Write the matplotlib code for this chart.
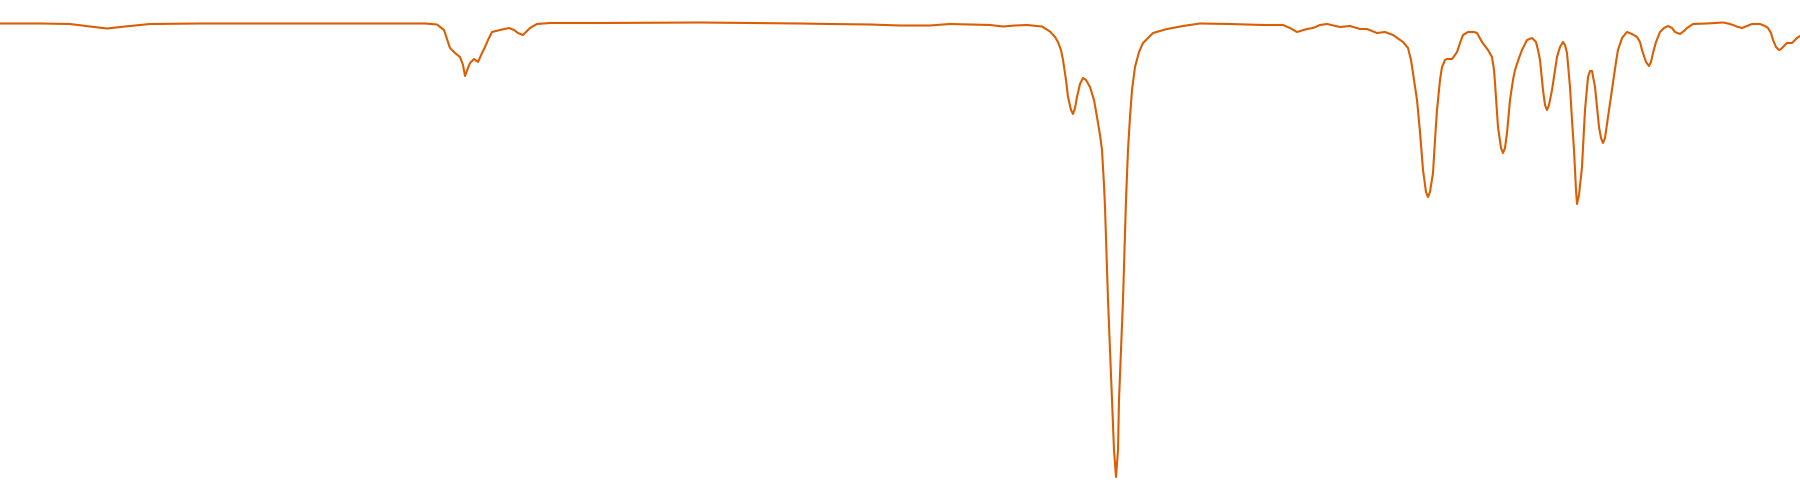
import matplotlib
matplotlib.use("Agg")
import matplotlib.pyplot as plt

# IR-like spectrum: wavenumber (cm-1) vs transmittance (%)
wavenumber = [4000, 3920, 3860, 3820, 3786, 3750, 3700, 3600, 3500, 3400, 3300, 3200,
              3150, 3126, 3112, 3100, 3090, 3080, 3074, 3070, 3064, 3060, 3052, 3044,
              3036, 3030, 3024, 3016, 3000, 2982, 2972, 2964, 2954, 2946, 2940, 2926,
              2900, 2800, 2600, 2400, 2340, 2260, 2200, 2140, 2100, 2020, 1994, 1970,
              1946, 1916, 1900, 1890, 1884, 1878, 1874, 1868, 1864, 1858, 1854, 1850,
              1846, 1840, 1834, 1828, 1820, 1812, 1806, 1800, 1796, 1792, 1790, 1784,
              1776, 1772, 1768, 1764, 1762, 1754, 1748, 1744, 1740, 1736, 1730, 1722,
              1714, 1694, 1666, 1634, 1600, 1540, 1474, 1434, 1420, 1406, 1386, 1374,
              1360, 1346, 1320, 1300, 1280, 1266, 1246, 1230, 1214, 1194, 1184, 1178,
              1174, 1166, 1160, 1154, 1148, 1144, 1140, 1134, 1130, 1126, 1120, 1116,
              1110, 1106, 1096, 1090, 1086, 1080, 1074, 1064, 1052, 1046, 1036, 1024,
              1016, 1012, 1010, 1004, 998, 994, 990, 986, 980, 974, 970, 962,
              956, 946, 936, 928, 924, 920, 914, 910, 906, 902, 896, 890,
              886, 880, 874, 870, 866, 860, 856, 852, 848, 846, 842, 836,
              830, 824, 820, 816, 810, 802, 798, 794, 790, 784, 774, 768,
              764, 756, 746, 736, 726, 720, 716, 708, 702, 698, 694, 688,
              680, 672, 664, 656, 650, 640, 632, 626, 614, 586, 554, 544,
              534, 524, 516, 506, 496, 480, 470, 464, 458, 454, 448, 442,
              438, 434, 426, 416, 406, 400]

transmittance = [95.3, 95.3, 95.2, 94.7, 94.3, 94.7, 95.2, 95.3, 95.3, 95.3, 95.3, 95.3,
                 95.3, 95.1, 94.0, 90.4, 89.4, 88.6, 87.0, 84.8, 86.4, 87.4, 88.2, 87.6,
                 89.4, 90.6, 92.0, 93.6, 94.0, 94.4, 94.0, 93.4, 93.0, 93.8, 94.4, 95.2,
                 95.4, 95.4, 95.5, 95.3, 95.2, 95.1, 94.9, 94.9, 95.2, 95.0, 94.7, 94.9,
                 95.0, 94.7, 93.7, 92.6, 91.6, 90.0, 88.0, 84.0, 80.6, 78.0, 77.2, 78.4,
                 80.6, 83.2, 84.4, 84.0, 82.6, 80.0, 76.6, 73.0, 70.0, 63.0, 58.6, 40.0,
                 20.0, 10.0, 4.6, 10.0, 20.0, 40.0, 60.0, 70.0, 76.6, 82.0, 86.6, 89.6,
                 91.4, 93.4, 94.2, 94.8, 95.3, 95.2, 95.0, 95.0, 94.4, 93.6, 94.2, 94.4,
                 95.0, 95.2, 94.6, 94.8, 94.2, 94.2, 93.4, 93.6, 93.0, 91.6, 90.4, 88.0,
                 85.4, 80.0, 73.6, 66.0, 61.6, 60.6, 61.6, 65.4, 72.0, 78.0, 84.0, 86.6,
                 88.0, 88.2, 88.2, 89.0, 89.6, 91.4, 93.0, 93.6, 93.6, 93.4, 91.6, 90.0,
                 88.6, 86.0, 83.4, 74.6, 70.4, 69.4, 70.4, 73.4, 80.0, 84.0, 86.0, 88.4,
                 90.0, 92.0, 92.4, 91.6, 90.0, 88.0, 82.0, 79.0, 78.0, 79.0, 82.0, 86.0,
                 88.6, 90.6, 91.6, 91.0, 89.4, 82.6, 76.0, 70.0, 62.0, 59.2, 61.0, 66.6,
                 78.0, 84.6, 85.8, 85.8, 82.6, 74.6, 72.4, 71.4, 72.4, 76.6, 83.4, 87.6,
                 90.0, 92.4, 93.6, 93.2, 92.6, 91.6, 90.0, 87.6, 86.8, 87.6, 89.4, 91.6,
                 93.6, 94.4, 94.8, 94.4, 93.6, 93.2, 93.8, 94.4, 95.2, 95.3, 95.5, 95.3,
                 95.0, 94.6, 94.4, 94.8, 95.2, 95.2, 94.8, 94.4, 93.4, 92.0, 90.6, 90.0,
                 90.2, 90.6, 91.4, 91.4, 92.4, 92.8]

assert len(wavenumber) == len(transmittance)

line_color = "#d95f02"

fig = plt.figure(figsize=(18, 5), dpi=100)
ax = fig.add_axes([0, 0, 1, 1])
ax.plot(wavenumber, transmittance, color=line_color, linewidth=1.5,
        solid_joinstyle="round", solid_capstyle="round")
ax.set_xlim(4000, 400)
ax.set_ylim(0, 100)
ax.axis("off")
fig.savefig("out.png", dpi=100, facecolor="white")
